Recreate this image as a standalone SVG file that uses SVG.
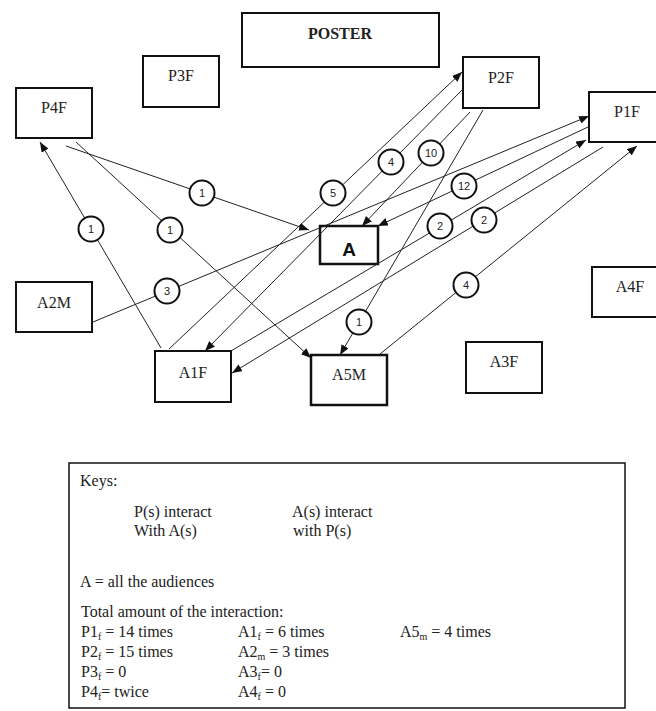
<svg xmlns="http://www.w3.org/2000/svg" width="656" height="711" viewBox="0 0 656 711">
<style>
.box{fill:#fff;stroke:#111;stroke-width:2}
.lbl{font-family:"Liberation Serif","Times New Roman",serif;font-size:16px;fill:#222;text-anchor:middle}
.bold{font-weight:bold}
.a{font-family:"Liberation Sans",Arial,sans-serif;font-size:19px;font-weight:bold;fill:#111;text-anchor:middle}
.conn line{stroke:#222;stroke-width:1;fill:none}
.arr{marker-end:url(#ah)}
.cnt circle{fill:#fff;stroke:#111;stroke-width:2}
.cnt text{font-family:"Liberation Sans",Arial,sans-serif;font-size:11px;fill:#222;text-anchor:middle}
.key{font-family:"Liberation Serif","Times New Roman",serif;font-size:16px;fill:#222}
.sub{font-size:10px}
</style>
<defs>
<marker id="ah" viewBox="0 0 10 8" refX="10" refY="4" markerWidth="10" markerHeight="8" markerUnits="userSpaceOnUse" orient="auto">
<path d="M0,0 L10,4 L0,8 Z" fill="#111"/>
</marker>
</defs>
<rect width="656" height="711" fill="#fff"/>

<g id="POSTER"><rect class="box" x="242" y="13" width="197" height="54"/><text class="lbl bold" x="340" y="39">POSTER</text></g>
<g id="P3F"><rect class="box" x="143" y="56" width="76" height="51"/><text class="lbl" x="181" y="81">P3F</text></g>
<g id="P4F"><rect class="box" x="16" y="88" width="76" height="50"/><text class="lbl" x="54" y="113">P4F</text></g>
<g id="P2F"><rect class="box" x="463" y="57" width="76" height="51"/><text class="lbl" x="501" y="83">P2F</text></g>
<g id="P1F"><rect class="box" x="589" y="92" width="76" height="50"/><text class="lbl" x="627" y="117">P1F</text></g>
<g id="A"><rect class="box" x="320" y="226" width="58" height="38" style="stroke-width:2.5"/><text class="a" x="349" y="256">A</text></g>
<g id="A2M"><rect class="box" x="16" y="282" width="76" height="50"/><text class="lbl" x="54" y="308">A2M</text></g>
<g id="A1F"><rect class="box" x="155" y="351" width="76" height="51"/><text class="lbl" x="193" y="378">A1F</text></g>
<g id="A5M"><rect class="box" x="311" y="355" width="76" height="50" style="stroke-width:2.5"/><text class="lbl" x="349" y="380">A5M</text></g>
<g id="A3F"><rect class="box" x="466" y="342" width="76" height="51"/><text class="lbl" x="504" y="367">A3F</text></g>
<g id="A4F"><rect class="box" x="592" y="267" width="76" height="50"/><text class="lbl" x="630" y="292">A4F</text></g>

<g id="connectors" class="conn">
<line class="arr" x1="66" y1="146" x2="309" y2="230"/>
<line class="arr" x1="76" y1="142" x2="311" y2="358"/>
<line class="arr" x1="161" y1="348" x2="40" y2="142"/>
<line class="arr" x1="93" y1="322" x2="589" y2="116"/>
<line class="arr" x1="169" y1="349" x2="462" y2="72"/>
<line class="arr" x1="463" y1="89" x2="205" y2="351"/>
<line class="arr" x1="470" y1="112" x2="362" y2="226"/>
<line class="arr" x1="588" y1="127" x2="378" y2="226"/>
<line class="arr" x1="231" y1="351" x2="586" y2="140"/>
<line class="arr" x1="603" y1="147" x2="232" y2="373"/>
<line class="arr" x1="483" y1="110" x2="340" y2="355"/>
<line class="arr" x1="380" y1="354" x2="637" y2="146"/>
</g>

<g id="counts" class="cnt">
<circle cx="202" cy="193" r="12.5"/><text x="202" y="197">1</text>
<circle cx="170" cy="230" r="12.5"/><text x="170" y="234">1</text>
<circle cx="91" cy="229" r="12.5"/><text x="91" y="233">1</text>
<circle cx="167" cy="291" r="12.5"/><text x="167" y="295">3</text>
<circle cx="333" cy="193" r="12.5"/><text x="333" y="197">5</text>
<circle cx="391" cy="162" r="12.5"/><text x="391" y="166">4</text>
<circle cx="431" cy="153" r="12.5"/><text x="431" y="157">10</text>
<circle cx="464" cy="186" r="12.5"/><text x="464" y="190">12</text>
<circle cx="440" cy="226" r="12.5"/><text x="440" y="230">2</text>
<circle cx="484" cy="220" r="12.5"/><text x="484" y="224">2</text>
<circle cx="359" cy="322" r="12.5"/><text x="359" y="326">1</text>
<circle cx="466" cy="285" r="12.5"/><text x="466" y="289">4</text>
</g>

<g id="keys">
<rect x="69" y="463" width="556" height="245" fill="#fff" stroke="#111" stroke-width="1.5"/>
<text class="key" x="80" y="486">Keys:</text>
<text class="key" x="134" y="517">P(s) interact</text>
<text class="key" x="134" y="536">With A(s)</text>
<text class="key" x="292" y="517">A(s) interact</text>
<text class="key" x="293" y="536">with P(s)</text>
<text class="key" x="80" y="587">A = all the audiences</text>
<text class="key" x="81" y="617">Total amount of the interaction:</text>
<text class="key" x="81" y="637">P1<tspan class="sub" dy="3">f</tspan><tspan dy="-3"> = 14 times</tspan></text>
<text class="key" x="81" y="657">P2<tspan class="sub" dy="3">f</tspan><tspan dy="-3"> = 15 times</tspan></text>
<text class="key" x="81" y="677">P3<tspan class="sub" dy="3">f</tspan><tspan dy="-3"> = 0</tspan></text>
<text class="key" x="81" y="697">P4<tspan class="sub" dy="3">f</tspan><tspan dy="-3">= twice</tspan></text>
<text class="key" x="238" y="637">A1<tspan class="sub" dy="3">f</tspan><tspan dy="-3"> = 6 times</tspan></text>
<text class="key" x="238" y="657">A2<tspan class="sub" dy="3">m</tspan><tspan dy="-3"> = 3 times</tspan></text>
<text class="key" x="238" y="677">A3<tspan class="sub" dy="3">f</tspan><tspan dy="-3">= 0</tspan></text>
<text class="key" x="238" y="697">A4<tspan class="sub" dy="3">f</tspan><tspan dy="-3"> = 0</tspan></text>
<text class="key" x="400" y="637">A5<tspan class="sub" dy="3">m</tspan><tspan dy="-3"> = 4 times</tspan></text>
</g>
</svg>
